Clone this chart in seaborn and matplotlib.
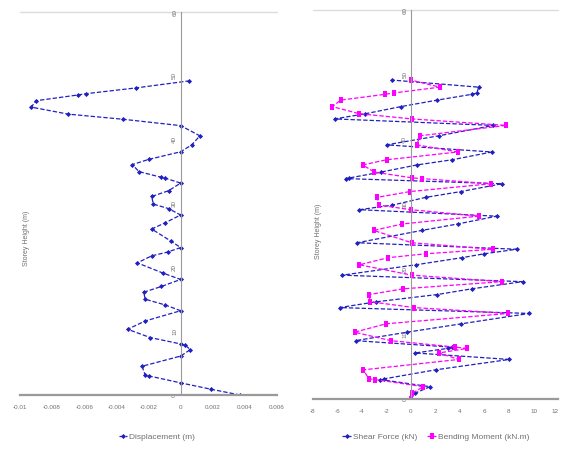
import matplotlib
matplotlib.use("Agg")
import matplotlib.pyplot as plt
import seaborn as sns
import pandas as pd

# Storey heights (m) at which results are reported
heights = [0, 0.9, 1.9, 3.0, 3.1, 4.5, 6.1, 7.1, 7.8, 8.0,
           9.0, 10.3, 11.6, 13.2, 14.1, 15.0, 16.1, 17.0, 18.1, 19.1,
           20.7, 21.8, 22.4, 23.1, 24.1, 26.0, 27.0, 28.2, 29.2, 29.9,
           31.1, 32.0, 33.2, 34.0, 34.1, 35.0, 36.1, 36.9, 38.1, 39.2,
           40.6, 42.2, 43.2, 44.0, 45.1, 46.1, 47.0, 47.2, 48.1, 49.2]

# Lateral displacement (m)
displacement = [0.0037, 0.0019, 0.0, -0.0020, -0.0022, -0.0024, 0.0, 0.0006, 0.0003, 0.0,
                -0.0019, -0.0033, -0.0022, 0.0, -0.00095, -0.0022, -0.0023, -0.0012, 0.0, -0.0011,
                -0.0027, -0.0018, -0.0008, 0.0, -0.0006, -0.0018, -0.00095, 0.0, -0.00075, -0.0017,
                -0.0018, -0.00075, 0.0, -0.0010, -0.0012, -0.0026, -0.0030, -0.0020, 0.0, 0.0007,
                0.0012, 0.0, -0.0036, -0.0070, -0.0093, -0.0090, -0.0064, -0.0059, -0.0028, 0.0005]

# Shear force (kN)
shear = [0.0, 0.35, 1.56, -2.49, -2.2, 2.02, 8.04, 0.35, 3.0, 3.32,
         -4.51, -0.32, 4.13, 9.66, -5.81, -2.8, 2.11, 4.99, 9.12, -5.59,
         0.40, 4.18, 5.99, 8.63, -4.37, 0.89, 3.83, 7.01, -4.19, -1.5,
         1.21, 4.10, 7.42, -5.32, -5.0, -2.43, 0.49, 3.37, 6.61, -1.98,
         2.29, 6.74, -6.21, -3.70, -0.81, 2.15, 4.99, 5.39, 5.53, -1.57]

# Bending moment (kN.m)
moment = [0.0, 0.13, 1.02, -2.89, -3.43, -3.86, 3.91, 2.29, 4.6, 3.64,
          -1.62, -4.59, -2.02, 7.96, 0.27, -3.3, -3.43, -0.6, 7.42, 0.08,
          -4.19, -1.84, 1.21, 6.69, 0.08, -3.03, -0.68, 5.53, 0.0, -2.57,
          -2.75, -0.06, 6.53, 0.89, 0.13, -2.97, -3.92, -1.98, 3.83, 0.49,
          0.75, 7.77, 0.08, -4.19, -6.40, -5.72, -2.08, -1.41, 2.37, 0.0]

y_ticks = [0, 10, 20, 30, 40, 50, 60]
y_tick_labels = ["0", "10", "20", "30", "40", "50", "60"]
disp_ticks = [-0.01, -0.008, -0.006, -0.004, -0.002, 0, 0.002, 0.004, 0.006]
disp_tick_labels = ["-0.01", "-0.008", "-0.006", "-0.004", "-0.002", "0", "0.002", "0.004", "0.006"]
force_ticks = [-8, -6, -4, -2, 0, 2, 4, 6, 8, 10, 12]
force_tick_labels = ["-8", "-6", "-4", "-2", "0", "2", "4", "6", "8", "10", "12"]

y_title = "Storey Height (m)"

sns.set_theme(style="white")
plt.rcParams["font.family"] = ["Liberation Sans", "DejaVu Sans"]

BLUE = "#2020c0"
MAGENTA = "#ff00ff"
AXIS_GREY = "#9a9a9a"
TEXT_GREY = "#707070"
DASH = (0, (3.5, 1.6))
TALL_SQUARE = [(-0.5, -1.0), (0.5, -1.0), (0.5, 1.0), (-0.5, 1.0), (-0.5, -1.0)]

df = pd.DataFrame({"height": heights, "disp": displacement,
                   "shear": shear, "moment": moment})

fig = plt.figure(figsize=(5.61, 4.49), dpi=100)
ax1 = fig.add_axes([20 / 561, 54 / 449, 257 / 561, 383 / 449])
ax2 = fig.add_axes([312.7 / 561, 50 / 449, 245.3 / 561, 389 / 449])

sns.lineplot(data=df, x="disp", y="height", sort=False, estimator=None, ax=ax1,
             color=BLUE, lw=0.9, linestyle=DASH, marker="D", markersize=2.6,
             markeredgewidth=0, label="Displacement (m)")

sns.lineplot(data=df, x="shear", y="height", sort=False, estimator=None, ax=ax2,
             color=BLUE, lw=0.9, linestyle=DASH, marker="D", markersize=2.6,
             markeredgewidth=0, label="Shear Force (kN)")
sns.lineplot(data=df, x="moment", y="height", sort=False, estimator=None, ax=ax2,
             color=MAGENTA, lw=0.9, linestyle=DASH, marker=TALL_SQUARE, markersize=5,
             markeredgewidth=0, label="Bending Moment (kN.m)")

panels = [
    (ax1, (-0.01, 0.006), disp_ticks, disp_tick_labels, 0.027, 0.41),
    (ax2, (-8, 12), force_ticks, force_tick_labels, 0.022, 0.43),
]
for ax, xlim, xt, xtl, tx, ty in panels:
    ax.set_xlim(*xlim)
    ax.set_ylim(0, 60)
    ax.set_xticks(xt)
    ax.set_xticklabels(xtl)
    ax.set_yticks(y_ticks)
    ax.set_yticklabels(y_tick_labels)
    ax.set_xlabel("")
    ax.set_ylabel("")
    for side in ("top", "right"):
        ax.spines[side].set_visible(False)
    ax.spines["left"].set_position(("data", 0))
    ax.spines["left"].set_color(AXIS_GREY)
    ax.spines["left"].set_linewidth(0.8)
    ax.spines["bottom"].set_color(AXIS_GREY)
    ax.spines["bottom"].set_linewidth(1.6)
    ax.axhline(60, color="#dcdcdc", lw=1.0, clip_on=False, zorder=0)
    ax.tick_params(axis="x", labelsize=4.5, colors=AXIS_GREY, labelcolor=TEXT_GREY,
                   length=2, width=0.6, direction="inout", pad=6)
    ax.tick_params(axis="y", labelsize=4.5, colors=AXIS_GREY, labelcolor=TEXT_GREY,
                   length=3, width=0.6, direction="inout", labelrotation=90, pad=1)
    for lab in ax.get_yticklabels():
        lab.set_va("center")
    ax.text(tx, ty, y_title, transform=ax.transAxes, rotation=90,
            ha="center", va="center", fontsize=5, color=TEXT_GREY)
    ax.set_facecolor("white")

# keep the last tick label of the right panel inside the canvas
ax2.get_xticklabels()[-1].set_ha("right")

ax1.legend(loc="center", bbox_to_anchor=(157 / 561, 1 - 437 / 449),
           bbox_transform=fig.transFigure, frameon=False, fontsize=6,
           handlelength=1.0, handletextpad=0.3, labelcolor=TEXT_GREY)
ax2.legend(loc="center", bbox_to_anchor=(436 / 561, 1 - 437 / 449),
           bbox_transform=fig.transFigure, frameon=False, fontsize=6, ncol=2,
           handlelength=1.0, handletextpad=0.3, columnspacing=1.2,
           labelcolor=TEXT_GREY)

fig.savefig("out.png", dpi=100, facecolor="white")
